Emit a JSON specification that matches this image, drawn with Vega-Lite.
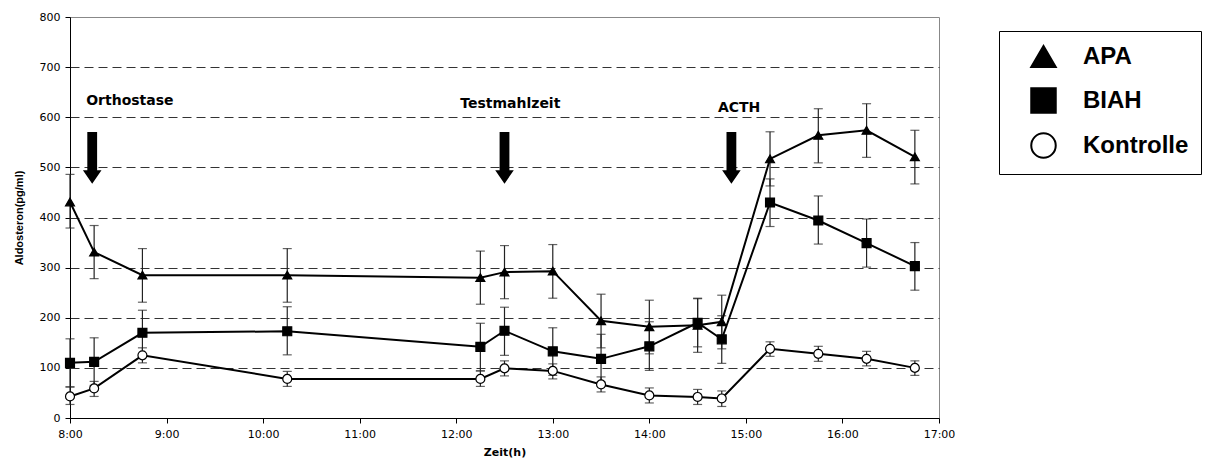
{
  "$schema": "https://vega.github.io/schema/vega-lite/v6.json",
  "width": 869,
  "height": 401,
  "autosize": "none",
  "padding": {"left": 70, "top": 17, "right": 275, "bottom": 45},
  "background": "white",
  "datasets": {
    "series": [
      {"group": "APA", "t": 8, "value": 431, "lo": 379, "hi": 486},
      {"group": "APA", "t": 8.25, "value": 331, "lo": 278, "hi": 384},
      {"group": "APA", "t": 8.75, "value": 285, "lo": 231, "hi": 338},
      {"group": "APA", "t": 10.25, "value": 285, "lo": 231, "hi": 338},
      {"group": "APA", "t": 12.25, "value": 280, "lo": 227, "hi": 333},
      {"group": "APA", "t": 12.5, "value": 291, "lo": 238, "hi": 344},
      {"group": "APA", "t": 13, "value": 293, "lo": 239, "hi": 346},
      {"group": "APA", "t": 13.5, "value": 194, "lo": 140, "hi": 247},
      {"group": "APA", "t": 14, "value": 182, "lo": 128, "hi": 235},
      {"group": "APA", "t": 14.5, "value": 185, "lo": 131, "hi": 239},
      {"group": "APA", "t": 14.75, "value": 192, "lo": 138, "hi": 245},
      {"group": "APA", "t": 15.25, "value": 517, "lo": 463, "hi": 571},
      {"group": "APA", "t": 15.75, "value": 564, "lo": 509, "hi": 617},
      {"group": "APA", "t": 16.25, "value": 574, "lo": 520, "hi": 627},
      {"group": "APA", "t": 16.75, "value": 521, "lo": 467, "hi": 574},
      {"group": "BIAH", "t": 8, "value": 110, "lo": 62, "hi": 158},
      {"group": "BIAH", "t": 8.25, "value": 112, "lo": 65, "hi": 160},
      {"group": "BIAH", "t": 8.75, "value": 170, "lo": 122, "hi": 215},
      {"group": "BIAH", "t": 10.25, "value": 173, "lo": 126, "hi": 222},
      {"group": "BIAH", "t": 12.25, "value": 142, "lo": 94, "hi": 189},
      {"group": "BIAH", "t": 12.5, "value": 174, "lo": 125, "hi": 221},
      {"group": "BIAH", "t": 13, "value": 133, "lo": 85, "hi": 180},
      {"group": "BIAH", "t": 13.5, "value": 118, "lo": 72, "hi": 167},
      {"group": "BIAH", "t": 14, "value": 143, "lo": 95, "hi": 192},
      {"group": "BIAH", "t": 14.5, "value": 190, "lo": 142, "hi": 238},
      {"group": "BIAH", "t": 14.75, "value": 157, "lo": 109, "hi": 204},
      {"group": "BIAH", "t": 15.25, "value": 430, "lo": 382, "hi": 477},
      {"group": "BIAH", "t": 15.75, "value": 394, "lo": 347, "hi": 443},
      {"group": "BIAH", "t": 16.25, "value": 349, "lo": 301, "hi": 397},
      {"group": "BIAH", "t": 16.75, "value": 303, "lo": 255, "hi": 350},
      {"group": "Kontrolle", "t": 8, "value": 43, "lo": 27, "hi": 62},
      {"group": "Kontrolle", "t": 8.25, "value": 59, "lo": 43, "hi": 73},
      {"group": "Kontrolle", "t": 8.75, "value": 125, "lo": 110, "hi": 140},
      {"group": "Kontrolle", "t": 10.25, "value": 78, "lo": 63, "hi": 93},
      {"group": "Kontrolle", "t": 12.25, "value": 78, "lo": 63, "hi": 94},
      {"group": "Kontrolle", "t": 12.5, "value": 99, "lo": 84, "hi": 114},
      {"group": "Kontrolle", "t": 13, "value": 94, "lo": 78, "hi": 108},
      {"group": "Kontrolle", "t": 13.5, "value": 67, "lo": 52, "hi": 82},
      {"group": "Kontrolle", "t": 14, "value": 45, "lo": 30, "hi": 60},
      {"group": "Kontrolle", "t": 14.5, "value": 42, "lo": 27, "hi": 57},
      {"group": "Kontrolle", "t": 14.75, "value": 39, "lo": 23, "hi": 54},
      {"group": "Kontrolle", "t": 15.25, "value": 138, "lo": 123, "hi": 152},
      {"group": "Kontrolle", "t": 15.75, "value": 128, "lo": 113, "hi": 143},
      {"group": "Kontrolle", "t": 16.25, "value": 118, "lo": 104, "hi": 133},
      {"group": "Kontrolle", "t": 16.75, "value": 100, "lo": 85, "hi": 114}
    ],
    "events": [
      {"event": "Orthostase", "t_label": 8.62, "y_label": 632, "t_arrow": 8.23, "y_arrow": 519},
      {"event": "Testmahlzeit", "t_label": 12.56, "y_label": 626, "t_arrow": 12.5, "y_arrow": 519},
      {"event": "ACTH", "t_label": 14.93, "y_label": 618, "t_arrow": 14.85, "y_arrow": 519}
    ]
  },
  "layer": [
    {
      "data": {"name": "series"},
      "mark": {"type": "rule", "color": "#222", "strokeWidth": 1.2},
      "encoding": {
        "x": {
          "field": "t", "type": "quantitative", "title": "Zeit(h)",
          "scale": {"domain": [8, 17], "nice": false, "zero": false},
          "axis": {
            "values": [8, 9, 10, 11, 12, 13, 14, 15, 16, 17],
            "labelExpr": "datum.value + ':00'",
            "labelFlush": false,
            "labelOverlap": false,
            "grid": false
          }
        },
        "y": {
          "field": "lo", "type": "quantitative", "title": "Aldosteron(pg/ml)",
          "scale": {"domain": [0, 800], "nice": false},
          "axis": {
            "values": [0, 100, 200, 300, 400, 500, 600, 700, 800],
            "grid": true,
            "gridDash": [9, 5],
            "labelFlush": false,
            "gridColor": {"condition": {"test": "datum.value === 0 || datum.value === 800", "value": "transparent"}, "value": "#333"},
            "titleFont": "Liberation Sans",
            "titleFontSize": 11,
            "titleFontWeight": "bold",
            "titlePadding": 15
          }
        },
        "y2": {"field": "hi"}
      }
    },
    {
      "data": {"name": "series"},
      "mark": {"type": "tick", "orient": "horizontal", "color": "#222", "size": 9, "thickness": 1.2},
      "encoding": {
        "x": {"field": "t", "type": "quantitative", "title": "Zeit(h)"},
        "y": {"field": "lo", "type": "quantitative", "title": "Aldosteron(pg/ml)"}
      }
    },
    {
      "data": {"name": "series"},
      "mark": {"type": "tick", "orient": "horizontal", "color": "#222", "size": 9, "thickness": 1.2},
      "encoding": {
        "x": {"field": "t", "type": "quantitative", "title": "Zeit(h)"},
        "y": {"field": "hi", "type": "quantitative", "title": "Aldosteron(pg/ml)"}
      }
    },
    {
      "data": {"name": "series"},
      "mark": {"type": "line", "color": "black", "strokeWidth": 2},
      "encoding": {
        "x": {"field": "t", "type": "quantitative", "title": "Zeit(h)"},
        "y": {"field": "value", "type": "quantitative", "title": "Aldosteron(pg/ml)"},
        "detail": {"field": "group"}
      }
    },
    {
      "data": {"name": "series"},
      "mark": {"type": "point", "filled": true, "strokeWidth": 1.2, "size": 80, "opacity": 1},
      "encoding": {
        "x": {"field": "t", "type": "quantitative", "title": "Zeit(h)"},
        "y": {"field": "value", "type": "quantitative", "title": "Aldosteron(pg/ml)"},
        "shape": {
          "field": "group", "type": "nominal", "title": null,
          "scale": {"domain": ["APA", "BIAH", "Kontrolle"], "range": ["triangle-up", "square", "circle"]},
          "legend": {
            "orient": "none", "legendX": 929, "legendY": 14,
            "padding": 12, "strokeColor": "black", "fillColor": "white",
            "symbolSize": 600, "symbolStrokeWidth": 2,
            "symbolOffset": 19, "labelOffset": 26, "rowPadding": 12,
            "labelFont": "Liberation Sans", "labelFontSize": 24, "labelFontWeight": "bold", "labelColor": "black",
            "labelExpr": "datum.label + '\u00a0\u00a0\u00a0'"
          }
        },
        "fill": {
          "field": "group", "type": "nominal", "title": null,
          "scale": {"domain": ["APA", "BIAH", "Kontrolle"], "range": ["black", "black", "white"]}
        },
        "stroke": {
          "field": "group", "type": "nominal", "title": null,
          "scale": {"domain": ["APA", "BIAH", "Kontrolle"], "range": ["black", "black", "black"]}
        }
      }
    },
    {
      "data": {"name": "events"},
      "mark": {"type": "point", "shape": "M-0.19,-1L0.19,-1L0.19,0.48L0.36,0.48L0,1L-0.36,0.48L-0.19,0.48Z", "filled": true, "fill": "black", "strokeWidth": 0, "size": 2663, "opacity": 1},
      "encoding": {
        "x": {"field": "t_arrow", "type": "quantitative", "title": "Zeit(h)"},
        "y": {"field": "y_arrow", "type": "quantitative", "title": "Aldosteron(pg/ml)"}
      }
    },
    {
      "data": {"name": "events"},
      "mark": {"type": "text", "font": "DejaVu Sans", "fontWeight": "bold", "fontSize": 14, "color": "black", "align": "center", "baseline": "middle"},
      "encoding": {
        "x": {"field": "t_label", "type": "quantitative", "title": "Zeit(h)"},
        "y": {"field": "y_label", "type": "quantitative", "title": "Aldosteron(pg/ml)"},
        "text": {"field": "event"}
      }
    }
  ],
  "config": {
    "font": "DejaVu Sans",
    "view": {"stroke": "#888", "strokeWidth": 1},
    "axis": {
      "domainColor": "black",
      "domainWidth": 1,
      "tickColor": "black",
      "tickSize": 5,
      "labelFont": "DejaVu Sans",
      "labelFontSize": 11,
      "labelColor": "black",
      "labelPadding": 5,
      "titleFont": "DejaVu Sans",
      "titleFontSize": 11,
      "titleFontWeight": "bold",
      "titleColor": "black",
      "titlePadding": 7
    }
  }
}
